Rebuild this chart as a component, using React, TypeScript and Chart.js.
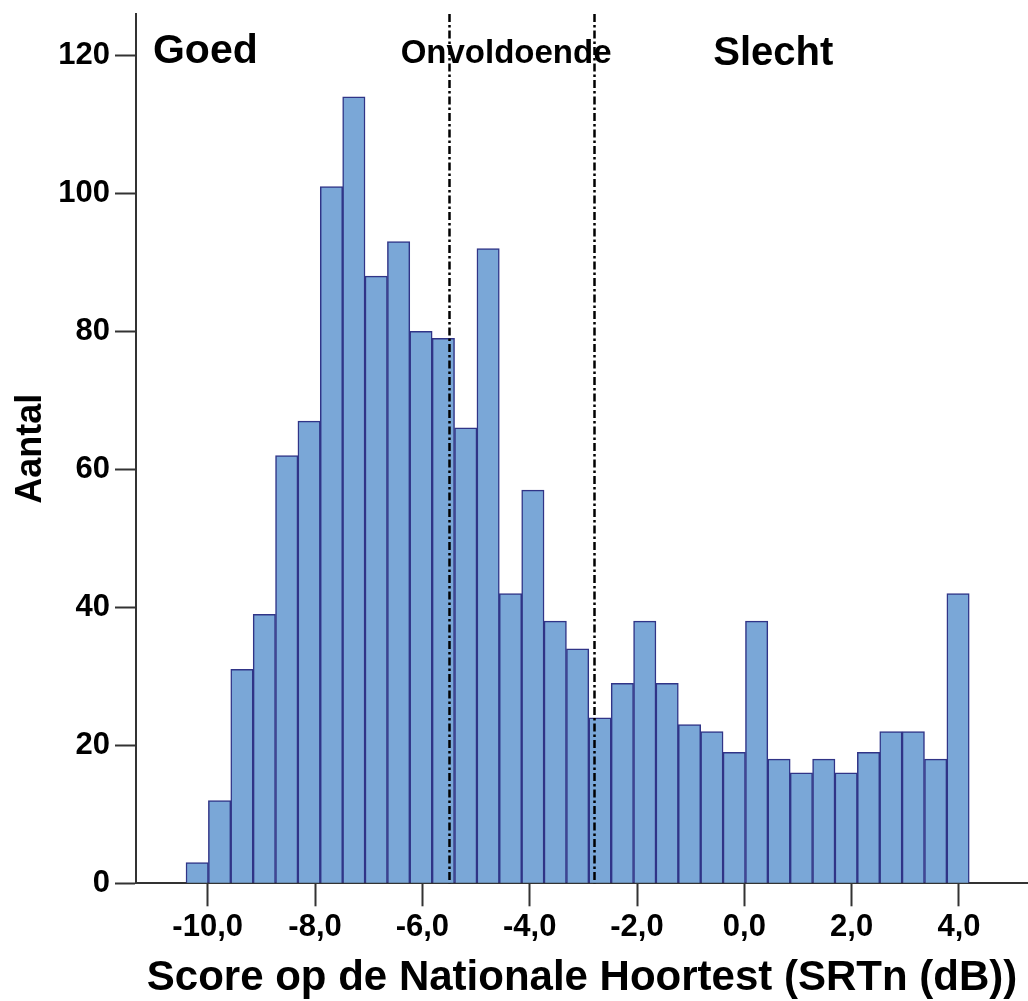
import React, { useEffect, useRef } from 'react';
import { Chart, registerables } from 'chart.js';

Chart.register(...registerables);

// Histogram counts per bin (left to right)
const counts = [3, 12, 31, 39, 62, 67, 101, 114, 88, 93, 80, 79, 66, 92, 42, 57, 38, 34, 24, 29, 38, 29, 23, 22, 19, 38, 18, 16, 18, 16, 19, 22, 22, 18, 42];
// Histogram bin definition (SRTn dB)
const binStart = -10.404;
const binWidth = 0.417;
// Axis ticks
const xTickValues = [-10, -8, -6, -4, -2, 0, 2, 4];
const yTickValues = [0, 20, 40, 60, 80, 100, 120];
// Category thresholds (dB)
const thresholds = [-5.5, -2.8];
// Zone texts
const zoneLabels = ['Goed', 'Onvoldoende', 'Slecht'];
const xTitle = 'Score op de Nationale Hoortest (SRTn (dB))';
const yTitle = 'Aantal';

// Styling / placement (kept apart from the data)
const FONT = "'Liberation Sans', Arial, sans-serif";
const zoneLayout = [
  { x: -11.02, y: 118.9, align: 'left', size: 41 },
  { x: -4.44, y: 118.9, align: 'center', size: 33 },
  { x: -0.58, y: 118.6, align: 'left', size: 40 },
];

export default function App() {
  const canvasRef = useRef<HTMLCanvasElement | null>(null);

  useEffect(() => {
    const canvas = canvasRef.current;
    if (!canvas) return;

    const data = counts.map((c, i) => ({ x: binStart + binWidth * (i + 0.5), y: c }));

    const annotPlugin = {
      id: 'zonesAndThresholds',
      afterDatasetsDraw(chart: any) {
        const { ctx, chartArea, scales } = chart;
        const xs = scales.x;
        const ys = scales.y;
        ctx.save();
        ctx.strokeStyle = '#000';
        ctx.lineWidth = 2.5;
        ctx.setLineDash([8, 3, 2.5, 3]);
        thresholds.forEach((t) => {
          const px = Math.round(xs.getPixelForValue(t)) + 0.5;
          ctx.beginPath();
          ctx.moveTo(px, chartArea.top);
          ctx.lineTo(px, chartArea.bottom);
          ctx.stroke();
        });
        ctx.setLineDash([]);
        ctx.fillStyle = '#000';
        ctx.textBaseline = 'alphabetic';
        zoneLabels.forEach((label, i) => {
          const l = zoneLayout[i];
          ctx.font = `bold ${l.size}px ${FONT}`;
          ctx.textAlign = l.align;
          ctx.fillText(label, xs.getPixelForValue(l.x), ys.getPixelForValue(l.y));
        });
        ctx.restore();
      },
    };

    const chart = new Chart(canvas, {
      type: 'bar',
      data: {
        datasets: [
          {
            data,
            backgroundColor: 'rgb(122,167,215)',
            borderColor: 'rgb(48,52,135)',
            borderWidth: 1.5,
            barPercentage: 1,
            categoryPercentage: 1,
          },
        ],
      },
      options: {
        animation: false,
        responsive: false,
        devicePixelRatio: 1,
        layout: { padding: { top: 14, left: 0, right: 0, bottom: 0 } },
        plugins: {
          legend: { display: false },
          tooltip: { enabled: false },
        },
        scales: {
          x: {
            type: 'linear',
            offset: false,
            min: -11.336,
            max: 5.286,
            afterBuildTicks: (scale: any) => {
              scale.ticks = xTickValues.map((v) => ({ value: v }));
            },
            afterFit: (scale: any) => {
              scale.height = 1001 - 883.3;
              scale.paddingLeft = 0;
              scale.paddingRight = 0;
            },
            grid: {
              display: true,
              offset: false,
              drawOnChartArea: false,
              drawTicks: true,
              tickLength: 23,
              tickWidth: 2,
              tickColor: '#333',
            },
            border: { display: true, color: '#333', width: 2 },
            ticks: {
              autoSkip: false,
              maxRotation: 0,
              padding: 3,
              color: '#000',
              font: { family: FONT, size: 31, weight: 'bold', lineHeight: 1.2 },
              callback: (v: any) => Number(v).toFixed(1).replace('.', ','),
            },
            title: {
              display: true,
              text: xTitle,
              color: '#000',
              font: { family: FONT, size: 42, weight: 'bold', lineHeight: 1 },
              padding: { top: 0, bottom: 2 },
            },
          },
          y: {
            type: 'linear',
            min: 0,
            max: 126,
            afterBuildTicks: (scale: any) => {
              scale.ticks = yTickValues.map((v) => ({ value: v }));
            },
            afterFit: (scale: any) => {
              scale.width = 136;
              scale.paddingTop = 0;
              scale.paddingBottom = 0;
            },
            grid: {
              display: true,
              drawOnChartArea: false,
              drawTicks: true,
              tickLength: 21,
              tickWidth: 2,
              tickColor: '#333',
            },
            border: { display: true, color: '#333', width: 2 },
            ticks: {
              padding: 5,
              color: '#000',
              font: { family: FONT, size: 31, weight: 'bold' },
              callback: (v: any) => String(v),
            },
            title: {
              display: true,
              text: yTitle,
              color: '#000',
              font: { family: FONT, size: 36, weight: 'bold', lineHeight: 1 },
              padding: { top: 13, bottom: 0 },
            },
          },
        },
      } as any,
      plugins: [annotPlugin],
    });

    return () => {
      chart.destroy();
    };
  }, []);

  return (
    <div style={{ position: 'fixed', left: 0, top: 0, width: 1028, height: 1001, background: '#fff' }}>
      <canvas ref={canvasRef} width={1028} height={1001} style={{ display: 'block' }} />
    </div>
  );
}
